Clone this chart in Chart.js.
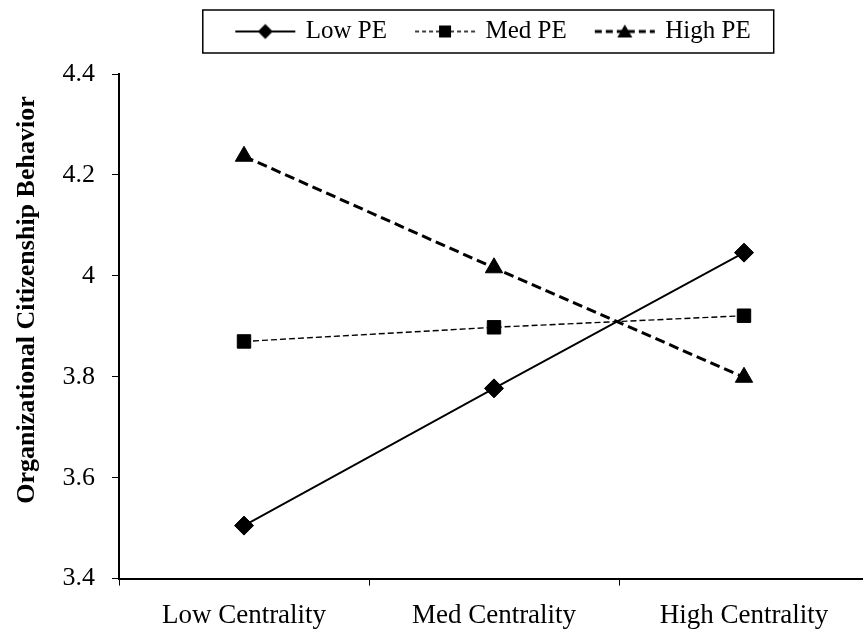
<!DOCTYPE html>
<html>
<head>
<meta charset="utf-8">
<script src="https://cdn.jsdelivr.net/npm/chart.js@4.4.0/dist/chart.umd.min.js"></script>
<style>
  html, body { margin: 0; padding: 0; overflow: hidden; background: #fff; }
  #wrap { width: 880px; height: 632px; }
</style>
</head>
<body>
<div id="wrap"><canvas id="chart"></canvas></div>
<script>
// values
const categories = ["Low Centrality", "Med Centrality", "High Centrality"];
const seriesNames = ["Low PE", "Med PE", "High PE"];
const lowPE = [3.505, 3.777, 4.046];
const medPE = [3.870, 3.898, 3.921];
const highPE = [4.237, 4.016, 3.799];
const yTickLabels = ["3.4", "3.6", "3.8", "4", "4.2", "4.4"];
const yTitle = "Organizational Citizenship Behavior";

const FONT = "'Liberation Serif', 'Times New Roman', serif";

// small line + marker picture for each legend entry
function legendSymbol(shape, dash, lineWidth) {
    const c = document.createElement("canvas");
    c.width = 62;
    c.height = 20;
    const g = c.getContext("2d");
    g.strokeStyle = "#000";
    g.fillStyle = "#000";
    g.lineWidth = lineWidth;
    g.setLineDash(dash);
    g.beginPath();
    g.moveTo(1, 10);
    g.lineTo(61, 10);
    g.stroke();
    g.setLineDash([]);
    g.beginPath();
    if (shape === "diamond") {
        g.moveTo(31, 2.5); g.lineTo(38.5, 10); g.lineTo(31, 17.5); g.lineTo(23.5, 10);
    } else if (shape === "square") {
        g.rect(25, 4, 12, 12);
    } else {
        g.moveTo(31, 3); g.lineTo(38.5, 16); g.lineTo(23.5, 16);
    }
    g.closePath();
    g.fill();
    return c;
}

const legendSymbols = [
    legendSymbol("diamond", [], 1.8),
    legendSymbol("square", [4, 3], 1.3),
    legendSymbol("triangle", [7, 4], 3)
];

// extra room between legend and plot
const legendGap = {
    id: "legendGap",
    beforeInit(chart) {
        const fit = chart.legend.fit;
        chart.legend.fit = function () {
            fit.call(this);
            this.height += 20;
        };
    }
};

// frame round the legend, and the y title placed like the original
const decorations = {
    id: "decorations",
    afterDraw(chart) {
        const ctx = chart.ctx;
        const boxes = chart.legend.legendHitBoxes;
        if (boxes && boxes.length) {
            const first = boxes[0];
            const last = boxes[boxes.length - 1];
            const cy = first.top + first.height / 2;
            ctx.save();
            ctx.strokeStyle = "#000";
            ctx.lineWidth = 1.5;
            ctx.strokeRect(first.left - 34.5, cy - 21.5, last.left + last.width + 23 - (first.left - 34.5), 43);
            ctx.restore();
        }
        ctx.save();
        ctx.translate(27.5, 300);
        ctx.rotate(-Math.PI / 2);
        ctx.fillStyle = "#000";
        ctx.font = "bold 26px " + FONT;
        ctx.textAlign = "center";
        ctx.textBaseline = "middle";
        ctx.fillText(yTitle, 0, 0);
        ctx.restore();
    }
};

const ctx = document.getElementById("chart").getContext("2d");

new Chart(ctx, {
    type: "line",
    data: {
        labels: categories,
        datasets: [
            {
                label: seriesNames[0],
                data: lowPE,
                borderColor: "#000",
                backgroundColor: "#000",
                borderWidth: 1.8,
                pointStyle: "rectRot",
                pointRadius: 9.5,
                pointBorderWidth: 1,
                tension: 0
            },
            {
                label: seriesNames[1],
                data: medPE,
                borderColor: "#000",
                backgroundColor: "#000",
                borderWidth: 1.4,
                borderDash: [6, 3],
                pointStyle: "rect",
                pointRadius: 9.5,
                pointBorderWidth: 1,
                tension: 0
            },
            {
                label: seriesNames[2],
                data: highPE,
                borderColor: "#000",
                backgroundColor: "#000",
                borderWidth: 3,
                borderDash: [10, 5],
                pointStyle: "triangle",
                pointRadius: 10,
                pointBorderWidth: 1,
                tension: 0
            }
        ]
    },
    options: {
        responsive: true,
        maintainAspectRatio: false,
        animation: false,
        layout: {
            padding: { top: -11, right: 7, bottom: -14, left: 0 }
        },
        plugins: {
            legend: {
                position: "top",
                fullSize: false,
                labels: {
                    usePointStyle: true,
                    pointStyleWidth: 56,
                    padding: 30,
                    color: "#000",
                    font: { family: FONT, size: 25 },
                    generateLabels: function(chart) {
                        const items = Chart.defaults.plugins.legend.labels.generateLabels(chart);
                        return items.map((item, i) => Object.assign(item, { pointStyle: legendSymbols[i] }));
                    }
                }
            },
            tooltip: { enabled: false }
        },
        scales: {
            x: {
                offset: true,
                grid: {
                    offset: true,
                    drawOnChartArea: false,
                    tickLength: 7,
                    color: "#000",
                    lineWidth: 1
                },
                border: { color: "#000", width: 2 },
                ticks: {
                    color: "#000",
                    padding: 14,
                    maxRotation: 0,
                    autoSkip: false,
                    font: { family: FONT, size: 27 }
                }
            },
            y: {
                min: 3.4,
                max: 4.4,
                grid: {
                    drawOnChartArea: false,
                    tickLength: 7,
                    color: "#000",
                    lineWidth: 1
                },
                border: { color: "#000", width: 2 },
                ticks: {
                    stepSize: 0.2,
                    padding: 17,
                    color: "#000",
                    font: { family: FONT, size: 26 },
                    callback: function(value, index) {
                        return yTickLabels[index];
                    }
                },
                afterFit: function(scale) {
                    scale.width = 119;
                }
            }
        }
    },
    plugins: [legendGap, decorations]
});
</script>
</body>
</html>
